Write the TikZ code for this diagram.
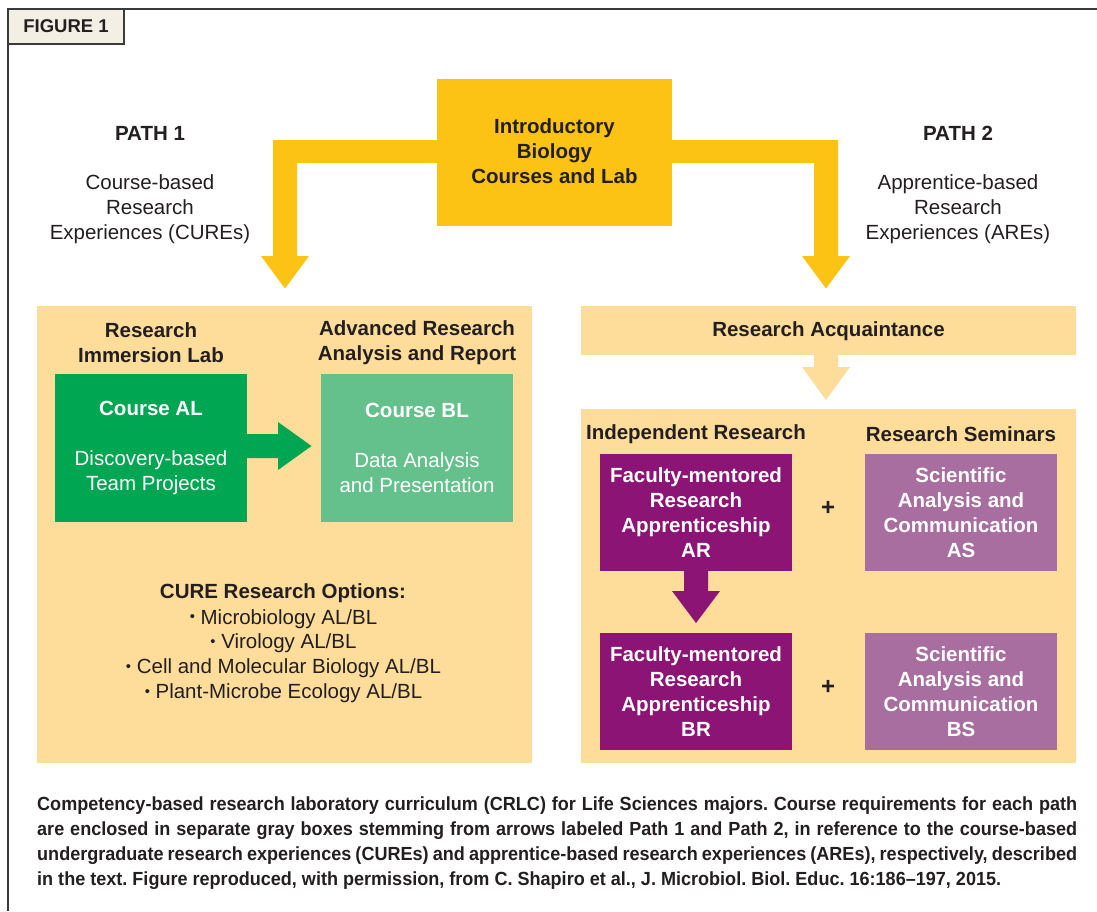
\documentclass[tikz,border=0pt]{standalone}
\usepackage{fontspec}
\setmainfont{Liberation Sans}
\newfontfamily\capfont[FakeStretch=0.95]{Liberation Sans}
\frenchspacing
\definecolor{ink}{HTML}{231F20}
\definecolor{gold}{HTML}{FCC314}
\definecolor{panel}{HTML}{FEDC9A}
\definecolor{grn}{HTML}{00A651}
\definecolor{lgrn}{HTML}{65C18C}
\definecolor{purp}{HTML}{8B1475}
\definecolor{lpurp}{HTML}{A86EA0}
\definecolor{tabfill}{HTML}{F4EFE5}
\definecolor{frame}{HTML}{3A3A3A}
\newcommand{\smallbul}{\raisebox{0.12em}{\scalebox{0.72}{•}}}
\tikzset{
  txt/.style={text=ink, align=center, inner sep=0pt, font=\fontsize{20.5}{24.8}\selectfont},
  btxt/.style={txt, font=\fontsize{20.5}{24.8}\selectfont\bfseries},
  panelbox/.style={fill=panel, draw=none, inner sep=0pt, outer sep=0pt},
  coursebox/.style={draw=none, inner sep=0pt, outer sep=0pt, text=white, align=center,
     minimum width=192pt, font=\fontsize{20.5}{24.8}\selectfont},
  capline/.style={anchor=base west, inner sep=0pt, text=ink, font=\capfont\bfseries\fontsize{19}{21}\selectfont},
}
\begin{document}
\begin{tikzpicture}[x=1pt,y=-1pt]
\useasboundingbox (0,0) rectangle (1097,911);
\fill[white] (0,0) rectangle (1097,911);
% frame
\draw[frame, line width=1.5pt] (8,911) -- (8,9) -- (1097,9);
\node[draw=frame, fill=tabfill, line width=1.2pt, minimum width=116pt, minimum height=35pt,
      inner sep=0pt, text=ink, font=\fontsize{18.5}{20}\selectfont\bfseries] (tab) at (66,26.5) {FIGURE 1};

% path labels
\node[btxt] (p1) at (150,133) {PATH 1};
\node[txt] (p1d) at (150,209) {Course-based\\Research\\Experiences (CUREs)};
\node[btxt] (p2) at (958,133) {PATH 2};
\node[txt] (p2d) at (958,209) {Apprentice-based\\Research\\Experiences (AREs)};

% intro box
\node[fill=gold, minimum width=235pt, minimum height=147pt, inner sep=0pt, outer sep=0pt] (intro) at (554.5,152.5) {};
\node[btxt] (introtxt) at (554.5,151) {Introductory\\Biology\\Courses and Lab};

% panels
\node[panelbox, minimum width=495pt, minimum height=457pt] (lpanel) at (284.5,534.5) {};
\node[panelbox, minimum width=495pt, minimum height=49pt] (acq) at (828.5,330.5) {};
\node[panelbox, minimum width=495pt, minimum height=354pt] (rpanel) at (828.5,586) {};

% yellow arrows
\fill[gold] (intro.west |- 0,140) -- (273,140) -- (273,256) -- (261,256) -- (285,288.5)
  -- (309,256) -- (297,256) -- (297,163) -- (intro.west |- 0,163) -- cycle;
\fill[gold] (intro.east |- 0,140) -- (838,140) -- (838,256) -- (850,256) -- (826,288.5)
  -- (802,256) -- (814,256) -- (814,163) -- (intro.east |- 0,163) -- cycle;

% left panel
\node[btxt] (h1) at (151,343) {Research\\Immersion Lab};
\node[btxt] (h2) at (417,343) {Advanced Research\\Analysis and Report};
\node[coursebox, fill=grn, minimum height=148pt] (al) at (151,448)
  {\textbf{Course AL}\\[25pt]Discovery-based\\Team Projects};
\node[coursebox, fill=lgrn, minimum height=148pt] (bl) at (417,448)
  {\textbf{Course BL}\\[25pt]Data Analysis\\and Presentation};
\fill[grn] (al.east |- 0,434) -- (278,434) -- (278,422) -- (311.5,446) -- (278,470)
  -- (278,458) -- (al.east |- 0,458) -- cycle;

\node[btxt] (opth) at (283,593) {CURE Research Options:};
\node[txt] (opts) at (283.5,656) {\smallbul\ Microbiology AL/BL\\
  \smallbul\ Virology AL/BL\\
  \smallbul\ Cell and Molecular Biology AL/BL\\
  \smallbul\ Plant-Microbe Ecology AL/BL};

% right side
\node[btxt] (acqtxt) at (828.5,331.5) {Research Acquaintance};
\fill[panel] (acq.south -| 814,0) -- (814,367) -- (802,367) -- (826,400) -- (850,367) -- (838,367)
  -- (acq.south -| 838,0) -- cycle;

\node[btxt] (ir) at (696,434) {Independent Research};
\node[btxt] (rs) at (961,434) {Research Seminars};

\node[coursebox, fill=purp, minimum height=117pt, font=\fontsize{20.5}{24.8}\selectfont\bfseries] (ar) at (696,512.5)
  {Faculty-mentored\\Research\\Apprenticeship\\AR};
\node[coursebox, fill=lpurp, minimum height=117pt, font=\fontsize{20.5}{24.8}\selectfont\bfseries] (as) at (961,512.5)
  {Scientific\\Analysis and\\Communication\\AS};
\node[coursebox, fill=purp, minimum height=117pt, font=\fontsize{20.5}{24.8}\selectfont\bfseries] (br) at (696,691.5)
  {Faculty-mentored\\Research\\Apprenticeship\\BR};
\node[coursebox, fill=lpurp, minimum height=117pt, font=\fontsize{20.5}{24.8}\selectfont\bfseries] (bs) at (961,691.5)
  {Scientific\\Analysis and\\Communication\\BS};
\node[btxt, font=\fontsize{24}{24}\selectfont\bfseries] (plus1) at (828,508) {+};
\node[btxt, font=\fontsize{24}{24}\selectfont\bfseries] (plus2) at (828,687) {+};
\fill[purp] (ar.south -| 684,0) -- (684,591) -- (672,591) -- (696,623) -- (720,591) -- (708,591)
  -- (ar.south -| 708,0) -- cycle;

% caption
\node[capline] (c1) at (37,810) {\makebox[1040pt][s]{Competency-based research laboratory curriculum (CRLC) for Life Sciences majors. Course requirements for each path}};
\node[capline] (c2) at (37,835) {\makebox[1040pt][s]{are enclosed in separate gray boxes stemming from arrows labeled Path 1 and Path 2, in reference to the course-based}};
\node[capline] (c3) at (37,860) {\makebox[1040pt][s]{undergraduate research experiences (CUREs) and apprentice-based research experiences (AREs), respectively, described}};
\node[capline] (c4) at (37,885) {in the text. Figure reproduced, with permission, from C. Shapiro et al., J. Microbiol. Biol. Educ. 16:186–197, 2015.};
\end{tikzpicture}
\end{document}
